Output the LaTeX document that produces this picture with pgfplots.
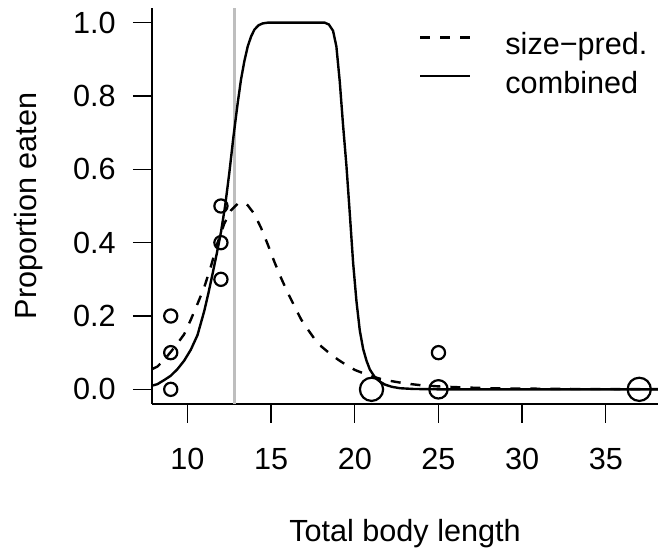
\documentclass[border=0pt]{standalone}
\usepackage{fontspec}
\setmainfont{Liberation Sans}
\usepackage{pgfplots}
\pgfplotsset{compat=1.18}
\definecolor{rgray}{HTML}{BEBEBE}
\begin{document}
\fontsize{15.3}{18}\selectfont
\begin{tikzpicture}
\begin{axis}[
  scale only axis,
  width=253pt, height=198pt,
  xmin=7.88, xmax=38.12, ymin=-0.04, ymax=1.04,
  axis lines*=left,
  axis line style={line width=1.2pt, -},
  xtick={10,15,20,25,30,35},
  ytick={0,0.2,0.4,0.6,0.8,1.0},
  yticklabels={0.0,0.2,0.4,0.6,0.8,1.0},
  /pgf/number format/assume math mode=true,
  tick align=outside,
  major tick length=9.5pt,
  every tick/.style={line width=0.7pt, black},
  xticklabel style={anchor=base, inner sep=0pt},
  xticklabel shift=23.5pt,
  yticklabel style={anchor=east, inner sep=0pt},
  yticklabel shift=8.5pt,
  every axis x label/.style={at={(axis description cs:0.5,-0.346)}, anchor=base},
  every axis y label/.style={at={(axis description cs:-0.2273,0.5)}, anchor=base, rotate=90},
  xlabel={Total body length},
  ylabel={Proportion eaten},
  legend cell align=left,
  legend style={at={(axis cs:23.84,0.976)}, anchor=north west, draw=none, fill=none,
    inner sep=0pt, outer sep=0pt, row sep=4.8pt, column sep=17pt,
    nodes={inner sep=0pt, text height=11.5pt, text depth=3pt}},
  legend image code/.code={\draw[#1] (0pt,4.3pt) -- (25pt,4.3pt);},
]
\coordinate (sw) at (rel axis cs:0,0);
\coordinate (ne) at (rel axis cs:1,1);
% grey reference line
\addplot[rgray, line width=1.3pt, forget plot] coordinates {(12.8,-0.04) (12.8,1.04)};
% size-predicted curve (dashed)
\addplot[black, line width=1.2pt, dash pattern=on 5pt off 5pt] coordinates {
(7.88,0.055) (8.2,0.062) (8.6,0.080) (9.0,0.102) (9.4,0.125) (9.8,0.150)
(10.2,0.190) (10.6,0.233) (11.0,0.278) (11.4,0.335) (11.8,0.400) (12.2,0.452)
(12.6,0.488) (13.0,0.506) (13.3,0.510) (13.6,0.502) (14.0,0.478) (14.4,0.440)
(14.8,0.395) (15.2,0.347) (15.6,0.303) (16.0,0.263) (16.4,0.226) (16.8,0.190)
(17.2,0.163) (17.6,0.137) (18.0,0.117) (18.5,0.098) (19.0,0.081) (19.5,0.066)
(20.0,0.053) (20.5,0.044) (21.0,0.036) (21.5,0.029) (22.0,0.024) (22.5,0.020)
(23.0,0.016) (24.0,0.011) (25.0,0.008) (26.0,0.006) (28.0,0.003) (30.0,0.002)
(33.0,0.001) (38.12,0.0005)};
\addlegendentry{size−pred.}
% combined curve (solid)
\addplot[black, line width=1.2pt] coordinates {
(7.88,0.010) (8.2,0.014) (8.6,0.025) (9.0,0.037) (9.4,0.055) (9.8,0.078)
(10.2,0.108) (10.6,0.148) (11.0,0.213) (11.25,0.262) (11.5,0.315) (11.75,0.370)
(12.0,0.428) (12.25,0.500) (12.5,0.590) (12.75,0.690) (13.0,0.780) (13.2,0.845)
(13.4,0.895) (13.6,0.935) (13.8,0.962) (14.0,0.981) (14.25,0.993) (14.5,0.998)
(14.8,1.000) (18.2,1.000) (18.45,0.995) (18.7,0.978) (18.9,0.935) (19.1,0.840)
(19.3,0.720) (19.5,0.610) (19.7,0.480) (19.9,0.345) (20.1,0.240) (20.3,0.160)
(20.5,0.110) (20.7,0.078) (20.9,0.054) (21.2,0.033) (21.5,0.021) (21.8,0.013)
(22.2,0.007) (22.7,0.003) (23.5,0.001) (25.0,0.0) (38.12,0.0)};
\addlegendentry{combined}
% observed proportions
\addplot[only marks, mark=o, mark size=3.3pt, mark options={line width=1.1pt, black}, forget plot] coordinates {
(9,0) (9,0.1) (9,0.2) (12,0.3) (12,0.4) (12,0.5) (25,0.1)};
\addplot[only marks, mark=o, mark size=4.6pt, mark options={line width=1.1pt, black}, forget plot] coordinates {
(25,0)};
\addplot[only marks, mark=o, mark size=5.8pt, mark options={line width=1.1pt, black}, forget plot] coordinates {
(21,0) (37,0)};
\end{axis}
\pgfresetboundingbox
\path ([xshift=-76pt,yshift=-76pt]sw) rectangle ([xshift=4pt,yshift=4pt]ne);
\end{tikzpicture}
\end{document}
